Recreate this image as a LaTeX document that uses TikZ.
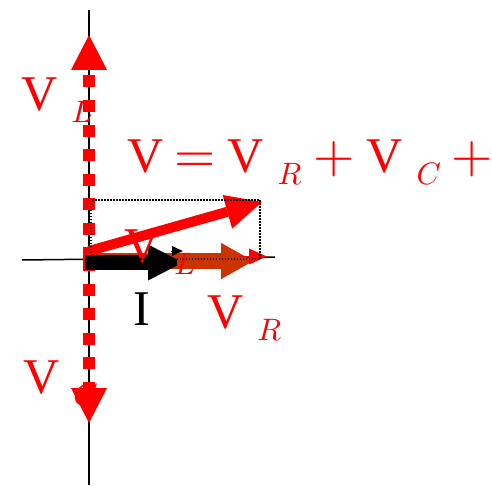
\documentclass[tikz,border=0pt]{standalone}
\usepackage{fix-cm}
\usepackage{fontspec}
\setmainfont{Liberation Serif}
\usetikzlibrary{arrows.meta}
\DeclareFontShape{OML}{cmm}{m}{it}{<->cmmi10}{}
\DeclareFontShape{OT1}{cmr}{m}{n}{<->cmr10}{}
\definecolor{vred}{HTML}{FF0000}
\definecolor{rust}{HTML}{CC3300}
\newcommand\vsub[1]{V\kern14pt\raisebox{-12pt}{\fontsize{31}{31}\selectfont$#1$}}
\newcommand\vop[1]{{\fontsize{53}{53}\selectfont$#1$}}

\begin{document}
\begin{tikzpicture}[x=1pt,y=1pt,
  lab/.style={inner sep=0pt,anchor=base west,text=vred,font=\fontsize{50}{55}\selectfont},
  head/.style 2 args={-{Triangle[length=#1pt,width=#2pt,line width=0pt]}},
  dashvec/.style={vred,line width=12pt,dash pattern=on 12pt off 12.5pt,head={35}{36}},
  rvec/.style={rust,line width=16pt,head={32}{36}}]
  \useasboundingbox (-89,-226) rectangle (403,259);
  \coordinate (O) at (0,0);
  \coordinate (top) at (0,249);
  \coordinate (bot) at (0,-226);
  \coordinate (west) at (-67,-1);
  \coordinate (east) at (186,2);
  \coordinate (VL) at (0,224);
  \coordinate (VC) at (0,-164);
  \coordinate (VR0) at (0,-2);
  \coordinate (VR1) at (88,-2);
  \coordinate (VR) at (164,-2);
  \coordinate (VRtip) at (178,2.5);
  \coordinate (VRt0) at (150,2.5);
  \coordinate (I0) at (-4,-3.5);
  \coordinate (I) at (94,-3.5);
  \coordinate (Ith0) at (82,8);
  \coordinate (Ith) at (94,8);
  \coordinate (V0) at (0,8);
  \coordinate (V) at (173,57);
  \coordinate (box0) at (2,0);
  \coordinate (box1) at (171,59);

  \draw[line width=1.5pt] (top) -- (bot);
  \draw[line width=1.5pt] (west) -- (east);

  \draw[dashvec] (O) -- (VL);
  \draw[dashvec] (O) -- (VC);

  \draw[rvec] (VR0) -- (VR);
  \draw[black,line width=15pt,head={35}{36}] (I0) -- (I);
  \draw[black,line width=.5pt,head={11}{10}] (Ith0) -- (Ith);
  \draw[rvec] (VR1) -- (VR);
  \node[lab] (vlmid) at (35,-3) {\vsub{L}};
  \draw[vred,line width=10pt,head={36}{35}] (V0) -- (V);
  \draw[vred,line width=1pt,head={18}{16}] (VRt0) -- (VRtip);
  \draw[line width=1.2pt,dash pattern=on 1.5pt off 1.5pt] (box0) rectangle (box1);

  \node[lab] (vl) at (-68,149) {\vsub{L}};
  \node[lab] (vc) at (-66,-134) {\vsub{C}};
  \node[lab] (sum) at (38,87)
    {V\kern11pt\vop{=}\kern12pt\vsub{R}\kern12pt\vop{+}\kern12pt\vsub{C}\kern10pt\vop{+}};
  \node[lab,text=black] (cur) at (44,-66) {I};
  \node[lab] (vr) at (118,-69) {\vsub{R}};
\end{tikzpicture}
\end{document}
